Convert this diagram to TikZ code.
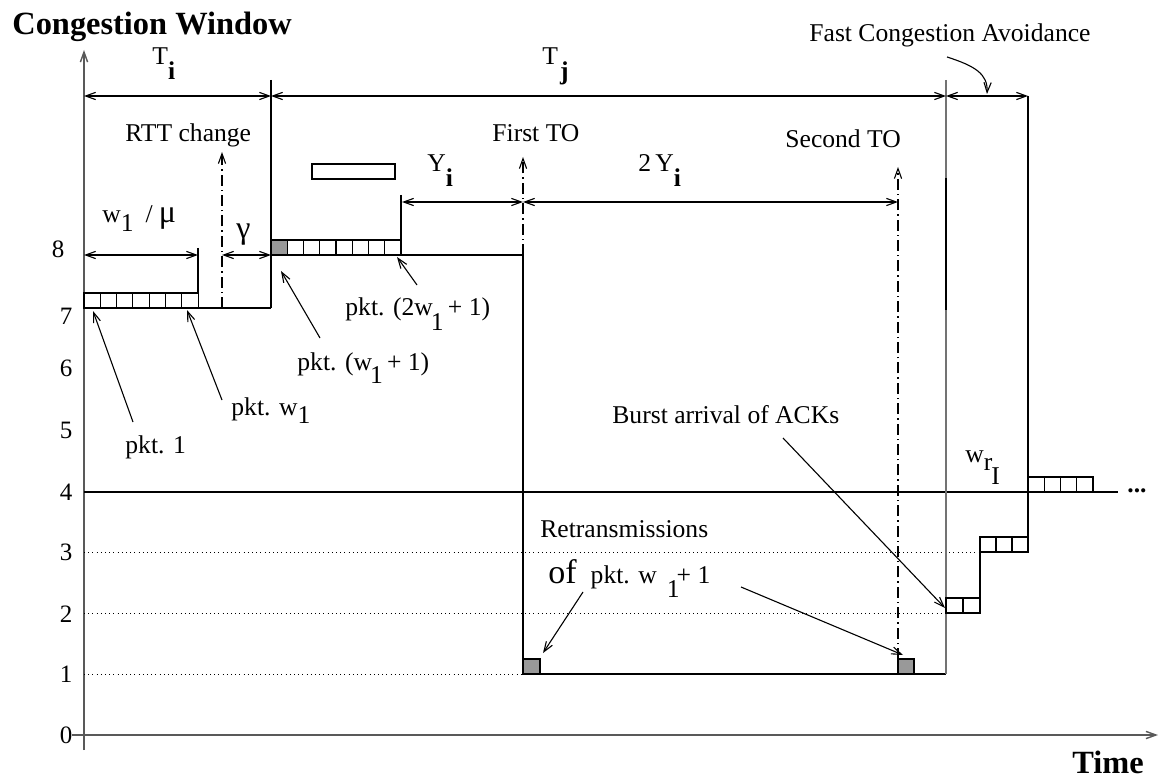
\documentclass[tikz,border=0pt]{standalone}
\usepackage{fontspec}
\setmainfont{Liberation Serif}
\usetikzlibrary{arrows.meta}
\newcommand\lblfont{\fontsize{12.8}{15}\selectfont}
\newcommand\numfont{\fontsize{12.5}{14}\selectfont}
\newcommand\bigbold{\fontsize{16.2}{18}\selectfont\bfseries}
\newcommand\grk{\fontsize{16}{18}\selectfont}
\tikzset{
  ln/.style={line width=0.55pt},
  axis/.style={line width=0.7pt, draw=black!65},
  dim/.style={ln,<->},
  arr/.style={ln,->},
  dd/.style={ln,dash pattern=on 5.5pt off 2pt on 0.7pt off 2pt},
  dots/.style={line width=0.5pt,dash pattern=on 0.5pt off 1.6pt},
  pktbox/.style={ln,draw=black},
  graybox/.style={ln,draw=black,fill=black!40},
  lbl/.style={inner sep=0pt,anchor=base west,font=\lblfont},
  num/.style={inner sep=0pt,anchor=center,font=\numfont},
  ttl/.style={inner sep=0pt,anchor=base west,font=\bigbold},
}
\begin{document}
\begin{tikzpicture}[x=0.5pt,y=-0.5pt,>={Straight Barb[length=5pt,width=3.6pt]}]
\useasboundingbox (0,0) rectangle (1159,780);

% axes
\draw[axis,->] (84,750) -- (84,50);
\draw[axis,->] (72,735) -- (1158,735);

% grid levels
\draw[dots] (84,674) -- (523,674);
\draw[dots] (84,613) -- (946,613);
\draw[dots] (84,552) -- (980,552);
\draw[ln] (84,492) -- (1118,492);

% window curve
\draw[ln] (84,308) -- (271,308);
\draw[ln] (271,80) -- (271,308);
\draw[ln] (271,255) -- (523,255) -- (523,674) -- (946,674);
\draw[ln,draw=black!55] (946,80) -- (946,674);
\draw[ln] (946,178) -- (946,310);
\draw[ln] (946,613) -- (980,613) -- (980,552) -- (1028,552) -- (1028,96);

% extension lines
\draw[ln] (198,248) -- (198,293);
\draw[ln] (401,195) -- (401,255);

% packet boxes
\foreach \i in {0,...,6} \draw[pktbox] ({84+16.3*\i},293) rectangle +(16.3,15);
\filldraw[graybox] (271,240) rectangle +(16.25,15);
\foreach \i in {1,...,7} \draw[pktbox] ({271+16.25*\i},240) rectangle +(16.25,15);
\foreach \i in {0,1} \draw[pktbox] ({946+17*\i},598) rectangle +(17,15);
\foreach \i in {0,1,2} \draw[pktbox] ({980+16*\i},537) rectangle +(16,15);
\foreach \i in {0,...,3} \draw[pktbox] ({1028+16.25*\i},477) rectangle +(16.25,15);
\draw[pktbox] (312,164) rectangle (395,179);

% dash-dot timeout markers
\draw[dd,->] (222,308) -- (222,152);
\draw[dd,->] (523,255) -- (523,157);
\draw[dd,->] (898,659) -- (898,167);
\filldraw[graybox] (523,659) rectangle (540,674);
\filldraw[graybox] (898,659) rectangle (914,674);

% dimension lines
\coordinate (ti0) at (84,96);   \coordinate (ti1) at (271,96);
\coordinate (tj1) at (946,96);  \coordinate (fc1) at (1028,96);
\draw[dim] (ti0) -- (ti1);
\draw[dim] (ti1) -- (tj1);
\draw[dim] (tj1) -- (fc1);
\coordinate (w0) at (84,255); \coordinate (w1) at (198,255);
\coordinate (g0) at (222,255); \coordinate (g1) at (271,255);
\draw[dim] (w0) -- (w1);
\draw[dim] (g0) -- (g1);
\coordinate (y0) at (402,202); \coordinate (y1) at (523,202); \coordinate (y2) at (898,202);
\draw[dim] (y0) -- (y1);
\draw[dim] (y1) -- (y2);

% axis numbers
\node[num] (n8) at (58,249) {8};
\node[num] (n7) at (66,316) {7};
\node[num] (n6) at (66,368) {6};
\node[num] (n5) at (66,430) {5};
\node[num] (n4) at (66,492) {4};
\node[num] (n3) at (66,552) {3};
\node[num] (n2) at (66,614) {2};
\node[num] (n1) at (66,674) {1};
\node[num] (n0) at (66,735) {0};

% titles
\node[ttl] (cw) at (12,35) {Congestion Window};
\node[ttl] (time) at (1072,773) {Time};

% labels
\node[lbl] (Ti) at (152,65) {T\raisebox{-7.5pt}{\bfseries i}};
\node[lbl] (Tj) at (542,65) {T\kern1pt\raisebox{-7.5pt}{\bfseries j}};
\node[lbl] (fca) at (809,42) {Fast Congestion Avoidance};
\node[lbl] (rtt) at (125,142) {RTT change};
\node[lbl] (fto) at (492,142) {First TO};
\node[lbl] (sto) at (785,148) {Second TO};
\node[lbl] (Yi) at (427,172) {Y\raisebox{-7.5pt}{\bfseries i}};
\node[lbl] (Y2i) at (638,172) {2\,Y\raisebox{-7.5pt}{\bfseries i}};
\node[lbl] (wmu) at (102,223) {w\raisebox{-4.5pt}{1}\hspace{6pt}/\hspace{3pt}{\grk μ}};
\node[lbl] (gam) at (236,239) {\grk γ};
\node[lbl] (lp1) at (125,453) {pkt. 1};
\node[lbl] (lpw) at (231,415) {pkt. w\raisebox{-4pt}{1}};
\node[lbl] (lpw1) at (297,370) {pkt. (w\kern-1pt\raisebox{-6.5pt}{1}\,+ 1)};
\node[lbl] (lp2w) at (345,315) {pkt. (2w\kern-1pt\raisebox{-7.5pt}{1}\,+ 1)};
\node[lbl] (burst) at (612,423) {Burst arrival of ACKs};
\node[lbl] (retx) at (540,537) {Retransmissions};
\node[lbl] (ofp) at (548,583) {{\fontsize{17}{19}\selectfont of}\hspace{7pt}pkt. w\hspace{5pt}\raisebox{-7pt}{1}\kern-1.5pt+ 1};
\node[lbl] (wr) at (965,462) {w\raisebox{-4pt}{r}\kern-0.5pt\raisebox{-11pt}{I}};
\node[lbl] (dots) at (1127,492) {\textbf{...}};

% annotation arrows
\coordinate (a1s) at (133,422); \coordinate (a1e) at (93,311);
\coordinate (a2s) at (222,400); \coordinate (a2e) at (187,310);
\coordinate (a3s) at (320,338); \coordinate (a3e) at (281,271);
\coordinate (a4s) at (417,285); \coordinate (a4e) at (397,257);
\coordinate (a5s) at (783,438); \coordinate (a5e) at (945,608);
\coordinate (a6s) at (583,592); \coordinate (a6e) at (543,653);
\coordinate (a7s) at (741,587); \coordinate (a7e) at (903,655);
\coordinate (a8s) at (947,57);  \coordinate (a8e) at (987,94);
\draw[arr] (a1s) -- (a1e);
\draw[arr] (a2s) -- (a2e);
\draw[arr] (a3s) -- (a3e);
\draw[arr] (a4s) -- (a4e);
\draw[arr] (a5s) -- (a5e);
\draw[arr] (a6s) -- (a6e);
\draw[arr] (a7s) -- (a7e);
\draw[arr] (a8s) .. controls (975,66) and (988,74) .. (a8e);
\end{tikzpicture}
\end{document}
